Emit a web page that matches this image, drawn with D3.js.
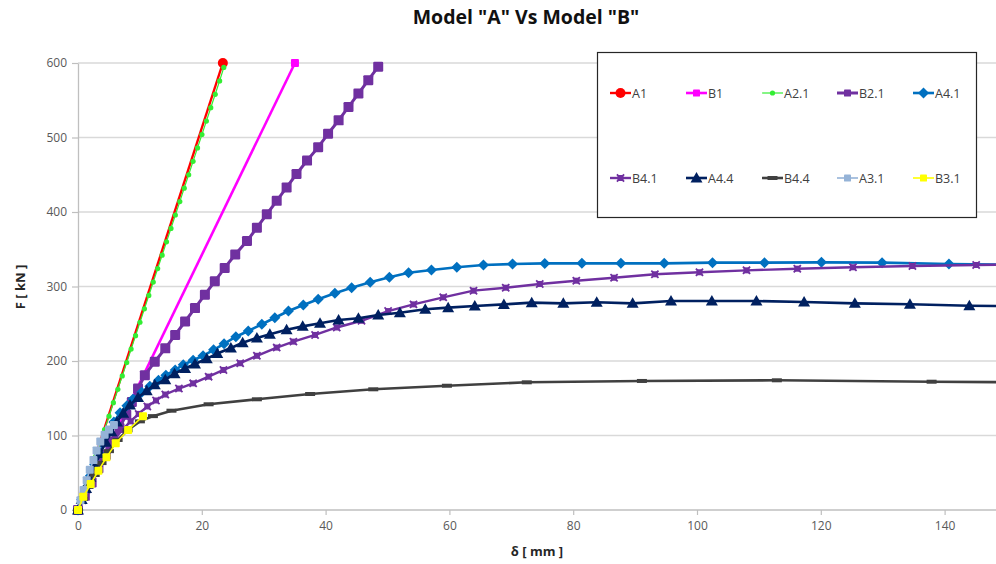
<!DOCTYPE html>
<html>
<head>
<meta charset="utf-8">
<script src="https://cdn.jsdelivr.net/npm/d3@7/dist/d3.min.js"></script>
<style>
  html, body { margin: 0; padding: 0; background: #fff; }
  svg { display: block; }
  text { font-family: "Open Sans", "Noto Sans", sans-serif; }
</style>
</head>
<body>
<svg id="chart" width="996" height="564"></svg>
<script>
// Load–displacement curves: δ [mm] against F [kN]
const seriesNames = ["A1", "B1", "A2.1", "B2.1", "A4.1", "B4.1", "A4.4", "B4.4", "A3.1", "B3.1"];

const a1X = [0, 23.4];
const a1F = [0, 600];

const b1X = [0, 35.05];
const b1F = [0, 600];

const a21X = [0, 0.72, 1.43, 2.15, 2.86, 3.58, 4.29, 5.01, 5.72, 6.44, 7.15, 7.87, 8.58, 9.30, 10.01, 10.73, 11.44,
  12.16, 12.87, 13.59, 14.30, 15.02, 15.73, 16.45, 17.16, 17.88, 18.59, 19.31, 20.02, 20.74, 21.45, 22.17, 22.88, 23.55];
const a21F = [0, 18, 36, 54, 72, 90, 108, 126, 144, 162, 180, 198, 216, 234, 252, 270, 288,
  306, 324, 342, 360, 378, 396, 414, 432, 450, 468, 486, 504, 522, 540, 558, 576, 594];

const b21X = [0, 1.1, 2.2, 3.3, 4.5, 5.6, 6.7, 7.8, 8.7, 9.7, 10.8, 12.4, 14.1, 15.7, 17.3, 18.9, 20.5, 22.1, 23.7,
  25.4, 27.3, 28.9, 30.5, 32.1, 33.7, 35.3, 37.0, 38.8, 40.4, 42.1, 43.7, 45.3, 46.9, 48.5];
const b21F = [0, 19, 37, 56, 74, 92, 110, 128, 145, 163, 181, 199, 217, 235, 253, 271, 289, 307, 325,
  343, 361, 379, 397, 415, 433, 451, 469, 487, 505, 523, 541, 559, 577, 595];

const a41X = [0, 0.6, 1.3, 2.0, 2.7, 3.4, 4.1, 4.9, 5.8, 6.8, 7.9, 8.9, 10.3, 11.6, 13.0, 14.2, 15.7, 17.0, 18.6,
  20.2, 21.9, 23.6, 25.5, 27.5, 29.7, 31.8, 34.0, 36.4, 38.8, 41.5, 44.2, 47.2, 50.3, 53.4, 57.1, 61.2, 65.5,
  70.2, 75.4, 81.4, 87.7, 94.7, 102.5, 110.9, 120.1, 129.9, 140.7, 150];
const a41F = [0, 14, 30, 46, 61, 76, 90, 104, 118, 130.6, 140, 149, 158, 166, 174, 181, 188, 195, 201,
  207, 215, 223, 232.6, 240.3, 249.3, 258.1, 267.1, 275.2, 282.8, 290.9, 298.4, 305.6, 312.3, 318.5, 322.1, 325.8, 328.9,
  330.2, 331, 331.1, 331.1, 331.1, 332, 332, 332.4, 332, 330.2, 329.5];

const b41X = [0, 0.7, 1.4, 2.2, 3.0, 3.9, 4.9, 6.0, 7.2, 8.5, 9.8, 11.2, 12.6, 14.1, 16.3, 18.6, 21.1, 23.5, 26.2,
  28.9, 32.1, 34.8, 38.3, 41.8, 45.8, 50.1, 54.2, 59.0, 63.9, 69.1, 74.6, 80.5, 86.6, 93.2, 100.4, 108.0, 116.2,
  125.2, 134.8, 145.1, 150];
const b41F = [0, 13, 27, 41, 55, 69, 83, 96, 108, 119, 129, 139, 147, 155, 163, 170, 179, 188, 197,
  207, 218, 226, 235, 245, 254, 267, 276, 285.5, 294.4, 298.4, 303.4, 307.8, 311.8, 316.4, 319.1, 321.7, 323.9,
  325.8, 327.5, 328.9, 329.3];

const a44X = [0, 0.6, 1.3, 2.0, 2.8, 3.6, 4.5, 5.4, 6.3, 7.3, 8.4, 9.7, 11.1, 12.4, 14.1, 15.6, 17.3, 18.9, 20.8,
  22.5, 24.7, 26.6, 28.9, 31.0, 33.7, 36.3, 39.1, 42.1, 45.3, 48.5, 52.0, 56.1, 59.8, 64.1, 68.8, 73.3, 78.4,
  83.8, 89.6, 95.8, 102.4, 109.6, 117.3, 125.5, 134.4, 144.0, 150];
const a44F = [0, 14, 29, 44, 60, 76, 91, 105, 118, 130, 141, 151, 160, 168, 175, 183, 190, 196, 203,
  210, 217.5, 224.5, 231, 236, 242, 246.5, 250.6, 255, 257.3, 261.7, 264.8, 269.4, 271.6, 273.8, 276, 278.3, 277.4,
  278.8, 277.4, 280.5, 280.5, 280.5, 279.2, 277.4, 276.1, 274.2, 273.6];

const b44X = [0, 0.8, 1.7, 2.7, 3.8, 5.0, 6.4, 8.0, 10.0, 12.1, 15.1, 21.1, 28.9, 37.5, 47.7, 59.6, 72.5, 91.1, 112.9, 137.9, 150];
const b44F = [0, 15, 31, 47, 63, 79, 94, 107, 119, 126, 133.3, 141.9, 148.6, 155.7, 162, 166.8, 171.4, 173.2, 174.1, 172.2, 171.6];

const a31X = [0, 0.4, 0.9, 1.4, 1.9, 2.5, 3.0, 3.6, 4.3, 5.0, 5.8];
const a31F = [0, 13, 27, 40, 54, 67, 80, 92, 101, 108, 114];

const b31X = [0, 0.86, 2.05, 3.3, 4.6, 6.1, 8.1, 10.5];
const b31F = [0, 17.9, 34.9, 52.8, 70.7, 89.5, 107.4, 126];

const xTicks = [0, 20, 40, 60, 80, 100, 120, 140];
const yTicks = [0, 100, 200, 300, 400, 500, 600];

const seriesX = [a1X, b1X, a21X, b21X, a41X, b41X, a44X, b44X, a31X, b31X];
const seriesF = [a1F, b1F, a21F, b21F, a41F, b41F, a44F, b44F, a31F, b31F];

// Appearance of each series: colour, line width and marker kind
const styles = {
  "A1":   { color: "#FF0000", width: 2.4, marker: "circle",   size: 5 },
  "B1":   { color: "#FF00FF", width: 2.6, marker: "square",   size: 8 },
  "A2.1": { color: "#33EE33", width: 1.2, marker: "dot",      size: 2.6 },
  "B2.1": { color: "#7030A0", width: 3,   marker: "square",   size: 10 },
  "A4.1": { color: "#0070C0", width: 2.6, marker: "diamond",  size: 5.5 },
  "B4.1": { color: "#7030A0", width: 2.4, marker: "xsquare",  size: 6 },
  "A4.4": { color: "#002060", width: 2.6, marker: "triangle", size: 6 },
  "B4.4": { color: "#404040", width: 2.6, marker: "dash",     size: 5 },
  "A3.1": { color: "#95B3D7", width: 1.6, marker: "square",   size: 8 },
  "B3.1": { color: "#FFFF00", width: 1.6, marker: "square",   size: 8 }
};

const svg = d3.select("#chart");
const W = 996, H = 564;
const margin = { left: 78, top: 63, bottom: 54 };

const x = d3.scaleLinear().domain([0, 150]).range([margin.left, margin.left + 150 * 6.19]);
const y = d3.scaleLinear().domain([0, 600]).range([H - margin.bottom, margin.top]);

const plot = svg.append("g");

// Horizontal gridlines
plot.append("g")
  .selectAll("line")
  .data(yTicks.filter(t => t > 0))
  .join("line")
  .attr("x1", x(0)).attr("x2", W)
  .attr("y1", d => y(d)).attr("y2", d => y(d))
  .attr("stroke", "#D9D9D9").attr("stroke-width", 1.3);

// Axes
const xAxis = plot.append("g")
  .attr("transform", `translate(0,${y(0)})`)
  .call(d3.axisBottom(x).tickValues(xTicks).tickSize(5).tickSizeOuter(0).tickPadding(6));
const yAxis = plot.append("g")
  .attr("transform", `translate(${x(0)},0)`)
  .call(d3.axisLeft(y).tickValues(yTicks).tickSize(6).tickSizeOuter(0).tickPadding(5));

[xAxis, yAxis].forEach(ax => {
  ax.select(".domain").attr("stroke", "#BFBFBF").attr("stroke-width", 1.3);
  ax.selectAll(".tick line").attr("stroke", "#BFBFBF").attr("stroke-width", 1.2);
  ax.selectAll(".tick text").attr("fill", "#595959").style("font-size", "12px")
    .style("font-family", "'Open Sans', sans-serif");
});
xAxis.select(".domain").attr("d", `M${x(0)},0H${W}`);

// Marker drawing helper
function drawMarker(g, kind, cx, cy, s, color) {
  if (kind === "circle" || kind === "dot") {
    g.append("circle").attr("cx", cx).attr("cy", cy).attr("r", s).attr("fill", color);
  } else if (kind === "square") {
    g.append("rect").attr("x", cx - s / 2).attr("y", cy - s / 2).attr("width", s).attr("height", s)
      .attr("rx", s * 0.12).attr("fill", color);
  } else if (kind === "diamond") {
    g.append("path").attr("d", `M${cx},${cy - s}L${cx + s},${cy}L${cx},${cy + s}L${cx - s},${cy}Z`).attr("fill", color);
  } else if (kind === "triangle") {
    g.append("path").attr("d", `M${cx},${cy - s}L${cx + s},${cy + s * 0.75}L${cx - s},${cy + s * 0.75}Z`).attr("fill", color);
  } else if (kind === "xsquare") {
    g.append("rect").attr("x", cx - s / 2).attr("y", cy - s / 2).attr("width", s).attr("height", s).attr("fill", color);
    g.append("path").attr("d", `M${cx - s * 0.6},${cy - s * 0.6}L${cx + s * 0.6},${cy + s * 0.6}M${cx - s * 0.6},${cy + s * 0.6}L${cx + s * 0.6},${cy - s * 0.6}`)
      .attr("stroke", color).attr("stroke-width", 1.8);
  } else if (kind === "dash") {
    g.append("rect").attr("x", cx - s).attr("y", cy - 2).attr("width", 2 * s).attr("height", 4).attr("fill", color);
  }
}

const line = d3.line().x(d => x(d[0])).y(d => y(d[1]));

svg.append("defs").append("clipPath").attr("id", "plotClip")
  .append("rect").attr("x", 0).attr("y", 0).attr("width", W).attr("height", H);

const marks = plot.append("g").attr("clip-path", "url(#plotClip)");

seriesNames.forEach((name, i) => {
  const st = styles[name];
  const pts = seriesX[i].map((v, j) => [v, seriesF[i][j]]);
  const g = marks.append("g");
  g.append("path").datum(pts).attr("d", line)
    .attr("fill", "none").attr("stroke", st.color).attr("stroke-width", st.width)
    .attr("stroke-linejoin", "round");
  const pts2 = name === "A1" || name === "B1" ? pts.slice(1) : pts;
  pts2.forEach(p => drawMarker(g, st.marker, x(p[0]), y(p[1]), st.size, st.color));
});

// Title and axis titles
svg.append("text").attr("x", 526).attr("y", 24).attr("text-anchor", "middle")
  .style("font-size", "19.5px").style("font-weight", "bold").attr("fill", "#111")
  .text('Model "A" Vs Model "B"');
svg.append("text").attr("x", 537).attr("y", 556).attr("text-anchor", "middle")
  .style("font-size", "13px").style("font-weight", "bold").attr("fill", "#262626")
  .text("δ [ mm ]");
svg.append("text").attr("transform", "translate(25,287) rotate(-90)").attr("text-anchor", "middle")
  .style("font-size", "13px").style("font-weight", "bold").attr("fill", "#262626")
  .text("F [ kN ]");

// Legend
const legend = svg.append("g");
legend.append("rect").attr("x", 597.5).attr("y", 52.5).attr("width", 379).attr("height", 165)
  .attr("fill", "#fff").attr("stroke", "#262626").attr("stroke-width", 1.2);
const colX = [610, 686, 762, 837, 913];
const rowY = [93, 178];
seriesNames.forEach((name, i) => {
  const st = styles[name];
  const lx = colX[i % 5], ly = rowY[Math.floor(i / 5)];
  const g = legend.append("g");
  g.append("line").attr("x1", lx).attr("x2", lx + 21).attr("y1", ly).attr("y2", ly)
    .attr("stroke", st.color).attr("stroke-width", st.width);
  drawMarker(g, st.marker, lx + 10.5, ly, Math.min(st.size, 7), st.color);
  g.append("text").attr("x", lx + 22).attr("y", ly + 4.5)
    .style("font-size", "12.5px").attr("fill", "#404040").text(name);
});
</script>
</body>
</html>
